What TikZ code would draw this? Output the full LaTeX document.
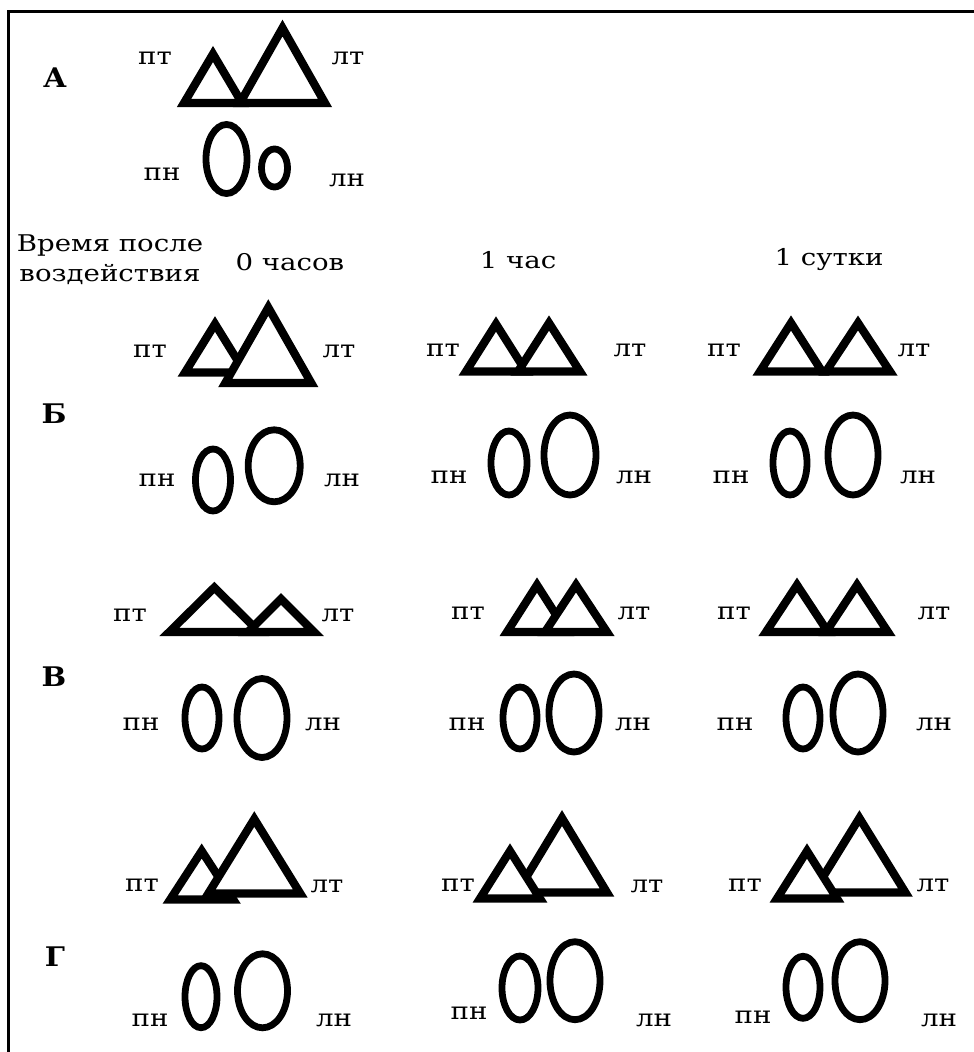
\documentclass[tikz,border=0pt]{standalone}
\usepackage{fontspec}
\setmainfont{DejaVu Serif}
\newfontfamily\lbfont[FakeStretch=1.15]{DejaVu Serif}
\newfontfamily\hdfont[FakeStretch=1.2]{DejaVu Serif}
\newfontfamily\grfont[FakeStretch=1.08]{DejaVu Serif}
\begin{document}
\begin{tikzpicture}[x=1pt,y=-1pt,
  tri/.style={draw=black,fill=white,line width=8.2pt,line join=miter},
  oval/.style={draw=black,line width=6.8pt},
  lbl/.style={inner sep=0pt,font=\lbfont\fontsize{24}{26}\selectfont},
  hdr/.style={inner sep=0pt,anchor=base,font=\hdfont\fontsize{23}{30}\selectfont},
  grp/.style={inner sep=0pt,font=\grfont\fontsize{27}{30}\selectfont\bfseries}]
\useasboundingbox (0,0) rectangle (974,1052);
% frame
\draw[line width=3pt,line join=miter] (8,1052) -- (8,11.5) -- (974,11.5);
% triangle: apex x, apex y, half width, height
\newcommand\tg[4]{\draw[tri] (#1,#2) -- ++(#3,#4) -- ++({-2*#3},0) -- cycle;}
% oval: centre x, centre y, radii
\newcommand\ov[4]{\draw[oval] (#1,#2) ellipse [x radius=#3, y radius=#4];}

% ---------- A ----------
\node[grp] (gA) at (55,78) {А};
\node[lbl] (a-pt) at (155,58) {пт};
\node[lbl] (a-lt) at (348,58) {лт};
\node[lbl] (a-pn) at (162,174) {пн};
\node[lbl] (a-ln) at (347,180) {лн};
\tg{213}{54}{29}{49}
\tg{282.5}{28}{42.5}{75}
\ov{226.5}{159}{20.5}{34.5}
\ov{274.5}{168}{13}{19}

% ---------- header ----------
\node[hdr] (h1) at (110,251.7) {Время после};
\node[hdr] (h2) at (110,281.7) {воздействия};
\node[hdr] (t0) at (290,270) {0 часов};
\node[hdr] (t1) at (518,268) {1 час};
\node[hdr] (t2) at (829,265) {1 сутки};

% ---------- Б ----------
\node[grp] (gB) at (54,414) {Б};
\node[lbl] (b0-pt) at (150,351) {пт};
\node[lbl] (b0-lt) at (339,351) {лт};
\node[lbl] (b0-pn) at (157,480) {пн};
\node[lbl] (b0-ln) at (342,480) {лн};
\tg{215}{324}{30}{48.5}
\tg{268.3}{307.5}{43}{75.5}
\ov{213}{480}{17.5}{31}
\ov{274.2}{465.8}{26}{36}

\node[lbl] (b1-pt) at (443,350) {пт};
\node[lbl] (b1-lt) at (630,350) {лт};
\node[lbl] (b1-pn) at (449,477) {пн};
\node[lbl] (b1-ln) at (634,477) {лн};
\tg{496}{324}{30}{47.5}
\tg{549}{323}{31}{48.5}
\ov{509}{463}{18}{32}
\ov{570}{455}{26}{40}

\node[lbl] (b2-pt) at (724,350) {пт};
\node[lbl] (b2-lt) at (914,350) {лт};
\node[lbl] (b2-pn) at (731,477) {пн};
\node[lbl] (b2-ln) at (918,477) {лн};
\tg{791}{323}{31}{48.5}
\tg{858}{323}{32}{48.5}
\ov{790}{463}{17}{32}
\ov{853}{455}{25}{40}

% ---------- В ----------
\node[grp] (gV) at (54,677) {В};
\node[lbl] (v0-pt) at (130,615) {пт};
\node[lbl] (v0-lt) at (338,615) {лт};
\node[lbl] (v0-pn) at (141,724) {пн};
\node[lbl] (v0-ln) at (323,724) {лн};
\tg{214.3}{587.5}{45}{44.5}
\tg{281}{599}{33}{33}
\ov{202}{718}{17}{31}
\ov{262}{718}{25}{39.5}

\node[lbl] (v1-pt) at (468,613) {пт};
\node[lbl] (v1-lt) at (634,613) {лт};
\node[lbl] (v1-pn) at (467,724) {пн};
\node[lbl] (v1-ln) at (633,724) {лн};
\tg{537}{585}{30}{47}
\tg{576}{585}{31}{47}
\ov{520}{718}{17}{31}
\ov{574}{713}{25}{39}

\node[lbl] (v2-pt) at (734,613) {пт};
\node[lbl] (v2-lt) at (934,613) {лт};
\node[lbl] (v2-pn) at (735,724) {пн};
\node[lbl] (v2-ln) at (934,724) {лн};
\tg{797}{585}{31}{47}
\tg{857}{585}{31}{47}
\ov{803}{718}{17}{31}
\ov{858}{713}{25}{39}

% ---------- Г ----------
\node[grp] (gG) at (55,957) {Г};
\node[lbl] (g0-pt) at (142,885) {пт};
\node[lbl] (g0-lt) at (327,886) {лт};
\node[lbl] (g0-pn) at (150,1020) {пн};
\node[lbl] (g0-ln) at (334,1020) {лн};
\tg{201.7}{851}{31.5}{48.5}
\tg{254.3}{819}{46}{74.5}
\ov{201}{996.7}{16}{31}
\ov{262.5}{990.8}{25}{37}

\node[lbl] (g1-pt) at (458,885) {пт};
\node[lbl] (g1-lt) at (647,886) {лт};
\node[lbl] (g1-pn) at (469,1013.5) {пн};
\node[lbl] (g1-ln) at (654,1020) {лн};
\tg{562}{818}{45}{74.5}
\tg{510}{851}{30}{47.5}
\ov{520}{988}{18}{32}
\ov{575}{980.7}{25}{39}

\node[lbl] (g2-pt) at (745,885) {пт};
\node[lbl] (g2-lt) at (933,885) {лт};
\node[lbl] (g2-pn) at (753,1017) {пн};
\node[lbl] (g2-ln) at (939,1020) {лн};
\tg{859.4}{818}{46}{74.5}
\tg{807}{851}{30}{47.5}
\ov{803}{987.3}{17}{31}
\ov{860}{980.7}{25}{39}
\end{tikzpicture}
\end{document}
